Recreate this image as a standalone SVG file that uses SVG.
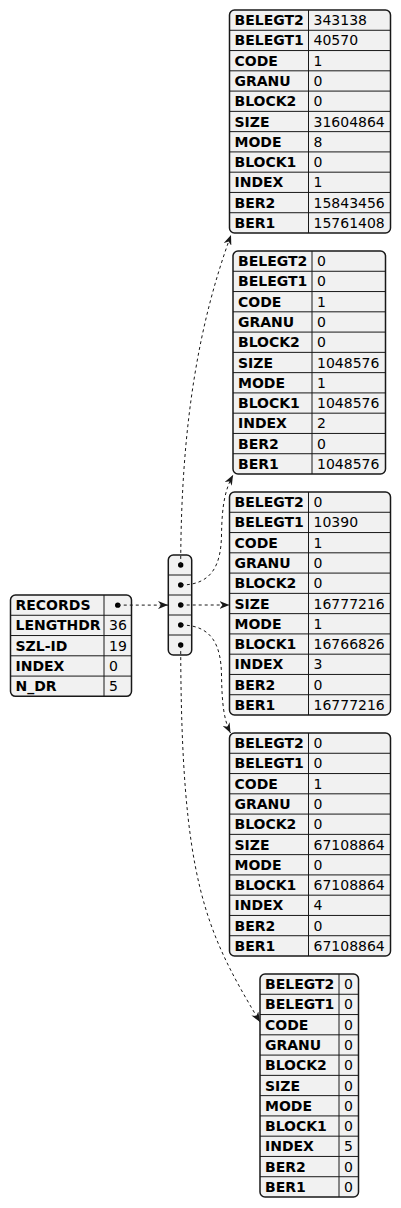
<svg xmlns="http://www.w3.org/2000/svg" width="401" height="1208" viewBox="0 0 401 1208">
<style>
.box{fill:#F1F1F1;stroke:#181818;stroke-width:1.5}
.ln{fill:none;stroke:#181818;stroke-width:1}
.k{font-family:"DejaVu Sans",sans-serif;font-size:14px;font-weight:bold;fill:#000}
.v{font-family:"DejaVu Sans",sans-serif;font-size:14px;fill:#000}
.edge{fill:none;stroke:#181818;stroke-width:1;stroke-dasharray:3,3}
.dot{fill:#000}
</style>
<defs>
<marker id="ah" viewBox="0 0 10 8" refX="10" refY="4" markerWidth="10" markerHeight="8" markerUnits="userSpaceOnUse" orient="auto">
<path d="M0,0 L10,4 L0,8 L3,4 Z" fill="#181818"/>
</marker>
</defs>
<rect width="401" height="1208" fill="#FFFFFF"/>

<g id="root" transform="translate(10.5,595)">
<rect class="box" x="0" y="0" width="121" height="101.35" rx="5"/>
<path class="ln" d="M0,20.27H121M0,40.54H121M0,60.81H121M0,81.08H121M93.5,0V101.35"/>
<text class="k" x="5" y="15.1">RECORDS</text>
<circle class="dot" cx="107.25" cy="10.13" r="2.7"/>
<text class="k" x="5" y="35.4">LENGTHDR</text><text class="v" x="98.5" y="35.4">36</text>
<text class="k" x="5" y="55.6">SZL-ID</text><text class="v" x="98.5" y="55.6">19</text>
<text class="k" x="5" y="75.9">INDEX</text><text class="v" x="98.5" y="75.9">0</text>
<text class="k" x="5" y="96.2">N_DR</text><text class="v" x="98.5" y="96.2">5</text>
</g>

<g id="records" transform="translate(168.3,555)">
<rect class="box" x="0" y="0" width="23.4" height="100" rx="5"/>
<path class="ln" d="M0,20H23.4M0,40H23.4M0,60H23.4M0,80H23.4"/>
<circle class="dot" cx="12.4" cy="10" r="2.7"/>
<circle class="dot" cx="12.4" cy="30" r="2.7"/>
<circle class="dot" cx="12.4" cy="50" r="2.7"/>
<circle class="dot" cx="12.4" cy="70" r="2.7"/>
<circle class="dot" cx="12.4" cy="90" r="2.7"/>
</g>

<g id="rec1" transform="translate(229.5,10)">
<rect class="box" x="0" y="0" width="161" height="223" rx="5"/>
<path class="ln" d="M0,20.27H161M0,40.55H161M0,60.82H161M0,81.09H161M0,101.36H161M0,121.64H161M0,141.91H161M0,162.18H161M0,182.45H161M0,202.73H161M79,0V223"/>
<text class="k" x="5" y="15.1">BELEGT2</text><text class="v" x="84" y="15.1">343138</text>
<text class="k" x="5" y="35.4">BELEGT1</text><text class="v" x="84" y="35.4">40570</text>
<text class="k" x="5" y="55.6">CODE</text><text class="v" x="84" y="55.6">1</text>
<text class="k" x="5" y="75.9">GRANU</text><text class="v" x="84" y="75.9">0</text>
<text class="k" x="5" y="96.2">BLOCK2</text><text class="v" x="84" y="96.2">0</text>
<text class="k" x="5" y="116.5">SIZE</text><text class="v" x="84" y="116.5">31604864</text>
<text class="k" x="5" y="136.7">MODE</text><text class="v" x="84" y="136.7">8</text>
<text class="k" x="5" y="157.0">BLOCK1</text><text class="v" x="84" y="157.0">0</text>
<text class="k" x="5" y="177.3">INDEX</text><text class="v" x="84" y="177.3">1</text>
<text class="k" x="5" y="197.6">BER2</text><text class="v" x="84" y="197.6">15843456</text>
<text class="k" x="5" y="217.8">BER1</text><text class="v" x="84" y="217.8">15761408</text>
</g>

<g id="rec2" transform="translate(233,251)">
<rect class="box" x="0" y="0" width="152.5" height="223" rx="5"/>
<path class="ln" d="M0,20.27H152.5M0,40.55H152.5M0,60.82H152.5M0,81.09H152.5M0,101.36H152.5M0,121.64H152.5M0,141.91H152.5M0,162.18H152.5M0,182.45H152.5M0,202.73H152.5M79,0V223"/>
<text class="k" x="5" y="15.1">BELEGT2</text><text class="v" x="84" y="15.1">0</text>
<text class="k" x="5" y="35.4">BELEGT1</text><text class="v" x="84" y="35.4">0</text>
<text class="k" x="5" y="55.6">CODE</text><text class="v" x="84" y="55.6">1</text>
<text class="k" x="5" y="75.9">GRANU</text><text class="v" x="84" y="75.9">0</text>
<text class="k" x="5" y="96.2">BLOCK2</text><text class="v" x="84" y="96.2">0</text>
<text class="k" x="5" y="116.5">SIZE</text><text class="v" x="84" y="116.5">1048576</text>
<text class="k" x="5" y="136.7">MODE</text><text class="v" x="84" y="136.7">1</text>
<text class="k" x="5" y="157.0">BLOCK1</text><text class="v" x="84" y="157.0">1048576</text>
<text class="k" x="5" y="177.3">INDEX</text><text class="v" x="84" y="177.3">2</text>
<text class="k" x="5" y="197.6">BER2</text><text class="v" x="84" y="197.6">0</text>
<text class="k" x="5" y="217.8">BER1</text><text class="v" x="84" y="217.8">1048576</text>
</g>

<g id="rec3" transform="translate(229.5,492)">
<rect class="box" x="0" y="0" width="161" height="223" rx="5"/>
<path class="ln" d="M0,20.27H161M0,40.55H161M0,60.82H161M0,81.09H161M0,101.36H161M0,121.64H161M0,141.91H161M0,162.18H161M0,182.45H161M0,202.73H161M79,0V223"/>
<text class="k" x="5" y="15.1">BELEGT2</text><text class="v" x="84" y="15.1">0</text>
<text class="k" x="5" y="35.4">BELEGT1</text><text class="v" x="84" y="35.4">10390</text>
<text class="k" x="5" y="55.6">CODE</text><text class="v" x="84" y="55.6">1</text>
<text class="k" x="5" y="75.9">GRANU</text><text class="v" x="84" y="75.9">0</text>
<text class="k" x="5" y="96.2">BLOCK2</text><text class="v" x="84" y="96.2">0</text>
<text class="k" x="5" y="116.5">SIZE</text><text class="v" x="84" y="116.5">16777216</text>
<text class="k" x="5" y="136.7">MODE</text><text class="v" x="84" y="136.7">1</text>
<text class="k" x="5" y="157.0">BLOCK1</text><text class="v" x="84" y="157.0">16766826</text>
<text class="k" x="5" y="177.3">INDEX</text><text class="v" x="84" y="177.3">3</text>
<text class="k" x="5" y="197.6">BER2</text><text class="v" x="84" y="197.6">0</text>
<text class="k" x="5" y="217.8">BER1</text><text class="v" x="84" y="217.8">16777216</text>
</g>

<g id="rec4" transform="translate(229.5,733)">
<rect class="box" x="0" y="0" width="161" height="223" rx="5"/>
<path class="ln" d="M0,20.27H161M0,40.55H161M0,60.82H161M0,81.09H161M0,101.36H161M0,121.64H161M0,141.91H161M0,162.18H161M0,182.45H161M0,202.73H161M79,0V223"/>
<text class="k" x="5" y="15.1">BELEGT2</text><text class="v" x="84" y="15.1">0</text>
<text class="k" x="5" y="35.4">BELEGT1</text><text class="v" x="84" y="35.4">0</text>
<text class="k" x="5" y="55.6">CODE</text><text class="v" x="84" y="55.6">1</text>
<text class="k" x="5" y="75.9">GRANU</text><text class="v" x="84" y="75.9">0</text>
<text class="k" x="5" y="96.2">BLOCK2</text><text class="v" x="84" y="96.2">0</text>
<text class="k" x="5" y="116.5">SIZE</text><text class="v" x="84" y="116.5">67108864</text>
<text class="k" x="5" y="136.7">MODE</text><text class="v" x="84" y="136.7">0</text>
<text class="k" x="5" y="157.0">BLOCK1</text><text class="v" x="84" y="157.0">67108864</text>
<text class="k" x="5" y="177.3">INDEX</text><text class="v" x="84" y="177.3">4</text>
<text class="k" x="5" y="197.6">BER2</text><text class="v" x="84" y="197.6">0</text>
<text class="k" x="5" y="217.8">BER1</text><text class="v" x="84" y="217.8">67108864</text>
</g>

<g id="rec5" transform="translate(260,974)">
<rect class="box" x="0" y="0" width="98.5" height="223" rx="5"/>
<path class="ln" d="M0,20.27H98.5M0,40.55H98.5M0,60.82H98.5M0,81.09H98.5M0,101.36H98.5M0,121.64H98.5M0,141.91H98.5M0,162.18H98.5M0,182.45H98.5M0,202.73H98.5M79,0V223"/>
<text class="k" x="5" y="15.1">BELEGT2</text><text class="v" x="84" y="15.1">0</text>
<text class="k" x="5" y="35.4">BELEGT1</text><text class="v" x="84" y="35.4">0</text>
<text class="k" x="5" y="55.6">CODE</text><text class="v" x="84" y="55.6">0</text>
<text class="k" x="5" y="75.9">GRANU</text><text class="v" x="84" y="75.9">0</text>
<text class="k" x="5" y="96.2">BLOCK2</text><text class="v" x="84" y="96.2">0</text>
<text class="k" x="5" y="116.5">SIZE</text><text class="v" x="84" y="116.5">0</text>
<text class="k" x="5" y="136.7">MODE</text><text class="v" x="84" y="136.7">0</text>
<text class="k" x="5" y="157.0">BLOCK1</text><text class="v" x="84" y="157.0">0</text>
<text class="k" x="5" y="177.3">INDEX</text><text class="v" x="84" y="177.3">5</text>
<text class="k" x="5" y="197.6">BER2</text><text class="v" x="84" y="197.6">0</text>
<text class="k" x="5" y="217.8">BER1</text><text class="v" x="84" y="217.8">0</text>
</g>

<g id="connectors">
<path class="edge" d="M117.75,605.1 L168,605.1" marker-end="url(#ah)"/>
<path class="edge" d="M180.7,565 C181,420 200,320 231,235" marker-end="url(#ah)"/>
<path class="edge" d="M180.7,585 C212,585 221,565 221.5,535 C222,505 225,490 233,475" marker-end="url(#ah)"/>
<path class="edge" d="M180.7,605 L229.5,605" marker-end="url(#ah)"/>
<path class="edge" d="M180.7,625 C212,625 221,645 221.5,675 C222,705 224,720 230.5,733" marker-end="url(#ah)"/>
<path class="edge" d="M180.7,645 C181,880 205,930 260,1022" marker-end="url(#ah)"/>
</g>
</svg>
